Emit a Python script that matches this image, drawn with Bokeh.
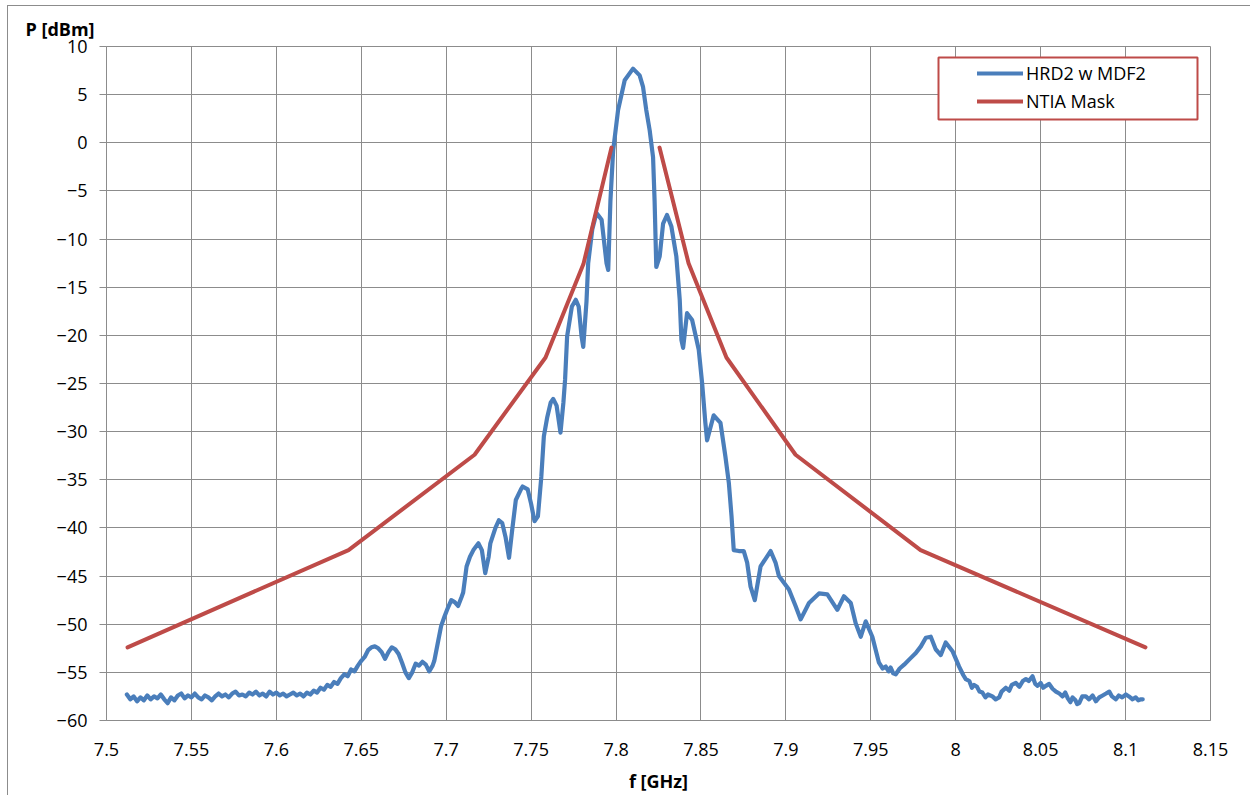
import numpy as np
from bokeh.plotting import figure
from bokeh.models import FixedTicker, Legend, LegendItem, BoxAnnotation, Title
from bokeh.embed import file_html
from bokeh.resources import INLINE

# ---------------- data ----------------
hrd2_freq = [
    7.512, 7.514, 7.516, 7.518, 7.520, 7.522, 7.524, 7.526, 7.528, 7.530,
    7.532, 7.534, 7.536, 7.538, 7.540, 7.542, 7.544, 7.546, 7.548, 7.550,
    7.552, 7.554, 7.556, 7.558, 7.560, 7.562, 7.564, 7.566, 7.568, 7.570,
    7.572, 7.574, 7.576, 7.578, 7.580, 7.582, 7.584, 7.586, 7.588, 7.590,
    7.592, 7.594, 7.596, 7.598, 7.600, 7.602, 7.604, 7.606, 7.608, 7.610,
    7.612, 7.614, 7.616, 7.618, 7.620, 7.622, 7.624, 7.626, 7.628, 7.630,
    7.632, 7.634, 7.636, 7.638, 7.640, 7.642, 7.644, 7.646, 7.648, 7.650,
    7.652, 7.654, 7.656, 7.658, 7.660, 7.662, 7.664, 7.666, 7.668, 7.670,
    7.672, 7.674, 7.676, 7.678, 7.680, 7.682, 7.684, 7.686, 7.688, 7.690,
    7.692, 7.693, 7.695, 7.697, 7.699, 7.701, 7.703, 7.705, 7.707, 7.709,
    7.710, 7.712, 7.714, 7.716, 7.719, 7.721, 7.723, 7.725, 7.726, 7.729,
    7.731, 7.733, 7.735, 7.737, 7.739, 7.741, 7.744, 7.745, 7.748, 7.750,
    7.752, 7.754, 7.756, 7.7575, 7.7595, 7.7615, 7.7630, 7.7650, 7.7673, 7.7690,
    7.7700, 7.7712, 7.7740, 7.7763, 7.7780, 7.7797, 7.7807, 7.7826, 7.7836, 7.7860,
    7.7885, 7.7915, 7.7944, 7.7954, 7.7967, 7.7983, 7.8012, 7.8051, 7.8100, 7.8139,
    7.8159, 7.8178, 7.8198, 7.8218, 7.8227, 7.8237, 7.8257, 7.8277, 7.8300, 7.8326,
    7.8355, 7.8375, 7.8385, 7.8395, 7.8418, 7.8448, 7.8487, 7.8507, 7.8526, 7.8536,
    7.8575, 7.8615, 7.8644, 7.8664, 7.8680, 7.8693, 7.8723, 7.8752, 7.8772, 7.8792,
    7.8817, 7.8851, 7.8910, 7.8939, 7.8959, 7.9018, 7.9057, 7.9087, 7.9136, 7.9195,
    7.9244, 7.9303, 7.9342, 7.9382, 7.9411, 7.9441, 7.9470, 7.9509, 7.9548, 7.9570,
    7.9588, 7.9605, 7.9617, 7.9632, 7.9647, 7.9670, 7.9696, 7.9730, 7.9765, 7.9795,
    7.9824, 7.9853, 7.9882, 7.9912, 7.9941, 7.9981, 8.0020, 8.0045, 8.0059, 8.0080,
    8.0095, 8.0108, 8.0125, 8.0140, 8.0157, 8.0175, 8.0190, 8.0216, 8.0235, 8.0256,
    8.0270, 8.0295, 8.0315, 8.0330, 8.0354, 8.0375, 8.0395, 8.0413, 8.0430, 8.0452,
    8.0468, 8.0482, 8.0500, 8.0515, 8.0531, 8.0550, 8.0570, 8.0590, 8.0610, 8.0629,
    8.0645, 8.0660, 8.0675, 8.0688, 8.0705, 8.0715, 8.0727, 8.0745, 8.0766, 8.0785,
    8.0806, 8.0825, 8.0845, 8.0865, 8.0885, 8.0904, 8.0920, 8.0943, 8.0960, 8.0980,
    8.1002, 8.1020, 8.1041, 8.1060, 8.1075, 8.1091, 8.1101,
]
hrd2_power = [
    -57.3, -57.8, -57.5, -58.0, -57.6, -57.9, -57.4, -57.8, -57.5, -57.7,
    -57.3, -57.8, -58.2, -57.6, -57.9, -57.4, -57.2, -57.7, -57.4, -57.6,
    -57.2, -57.6, -57.8, -57.4, -57.6, -57.9, -57.5, -57.2, -57.5, -57.3,
    -57.6, -57.2, -57.0, -57.4, -57.3, -57.5, -57.1, -57.3, -57.0, -57.4,
    -57.2, -57.5, -57.0, -57.3, -57.1, -57.4, -57.2, -57.5, -57.3, -57.1,
    -57.4, -57.2, -57.5, -57.1, -57.3, -56.9, -57.1, -56.6, -56.8, -56.3,
    -56.5, -56.0, -56.2, -55.6, -55.2, -55.4, -54.7, -54.9, -54.3, -53.8,
    -53.4, -52.7, -52.4, -52.3, -52.5, -52.9, -53.6, -52.9, -52.4, -52.6,
    -53.1, -54.0, -55.0, -55.6, -55.0, -54.1, -54.3, -53.9, -54.2, -54.9,
    -54.3, -53.8, -52.0, -50.2, -49.2, -48.3, -47.5, -47.7, -48.1, -47.2,
    -46.7, -44.0, -43.0, -42.3, -41.6, -42.3, -44.7, -43.0, -41.6, -40.0,
    -39.2, -39.5, -41.0, -43.1, -40.0, -37.1, -36.0, -35.7, -36.0, -37.5,
    -39.3, -38.8, -34.7, -30.5, -28.5, -27.0, -26.6, -27.3, -30.1, -27.0,
    -24.6, -20.1, -17.0, -16.3, -17.0, -20.1, -21.2, -16.5, -12.5, -9.0,
    -7.3, -8.0, -12.5, -13.2, -6.0, -0.8, 3.4, 6.5, 7.7, 7.0,
    5.8, 3.4, 1.3, -1.5, -6.0, -12.9, -11.8, -8.4, -7.5, -8.7,
    -11.8, -16.3, -20.5, -21.3, -17.7, -18.4, -21.5, -25.0, -29.1, -30.9,
    -28.3, -29.1, -32.6, -35.3, -38.8, -42.3, -42.4, -42.4, -43.6, -46.1,
    -47.5, -44.0, -42.4, -43.6, -45.0, -46.4, -48.1, -49.5, -47.8, -46.8,
    -46.9, -48.5, -47.1, -47.8, -49.9, -51.3, -49.7, -51.3, -54.0, -54.6,
    -54.4, -54.9, -54.5, -55.1, -55.2, -54.6, -54.2, -53.6, -53.0, -52.3,
    -51.4, -51.3, -52.6, -53.2, -51.9, -52.8, -54.4, -55.3, -55.7, -55.9,
    -56.6, -56.3, -56.5, -57.0, -57.1, -57.6, -57.3, -57.5, -57.8, -57.6,
    -57.0, -56.6, -56.9, -56.3, -56.1, -56.5, -55.9, -55.7, -55.9, -55.4,
    -56.2, -56.4, -56.1, -56.6, -56.4, -56.2, -56.7, -57.0, -57.2, -57.5,
    -57.1, -57.7, -58.1, -57.6, -57.9, -58.3, -58.2, -57.5, -57.5, -57.8,
    -57.4, -58.0, -57.6, -57.4, -57.2, -57.0, -57.5, -57.8, -57.4, -57.6,
    -57.3, -57.5, -57.8, -57.6, -57.9, -57.8, -57.8,
]

mask_left_freq = [7.5124, 7.6425, 7.7167, 7.7585, 7.7808, 7.7973]
mask_left_power = [-52.4, -42.3, -32.4, -22.3, -12.6, -0.5]
mask_right_freq = [7.8256, 7.8427, 7.8650, 7.9057, 7.9793, 8.1117]
mask_right_power = [-0.5, -12.5, -22.3, -32.4, -42.3, -52.4]

x_ticks = [7.5, 7.55, 7.6, 7.65, 7.7, 7.75, 7.8, 7.85, 7.9, 7.95, 8.0, 8.05, 8.1, 8.15]
x_tick_labels = ["7.5", "7.55", "7.6", "7.65", "7.7", "7.75", "7.8", "7.85", "7.9",
                 "7.95", "8", "8.05", "8.1", "8.15"]
y_ticks = [-60, -55, -50, -45, -40, -35, -30, -25, -20, -15, -10, -5, 0, 5, 10]

series_names = ["HRD2 w MDF2", "NTIA Mask"]
x_title = "f [GHz]"
y_title = "P [dBm]"

# ---------------- styling ----------------
BLUE = "#4a7ebb"
RED = "#be4b48"
GRID = "#8c8c8c"
FONT = "Open Sans"

mask_freq = np.array(mask_left_freq + [np.nan] + mask_right_freq)
mask_power = np.array(mask_left_power + [np.nan] + mask_right_power)

p = figure(width=1250, height=795, x_range=(7.5, 8.15), y_range=(-60, 10),
           output_backend="svg", toolbar_location=None,
           min_border_left=106, min_border_right=40, min_border_top=46,
           min_border_bottom=74)
p.background_fill_color = "white"
p.border_fill_alpha = 0
# chart-area frame (left and top edges visible, as in the reference)
p.styles = {
    "background": ("linear-gradient(#8c8c8c, #8c8c8c) 7px 5px / 1px 790px no-repeat, "
                   "linear-gradient(#8c8c8c, #8c8c8c) 7px 5px / 1244px 1px no-repeat, white"),
}
p.outline_line_color = GRID
p.outline_line_width = 1

p.xaxis.ticker = FixedTicker(ticks=x_ticks)
p.xaxis.major_label_overrides = {t: l for t, l in zip(x_ticks, x_tick_labels)}
p.yaxis.ticker = FixedTicker(ticks=y_ticks)

for ax in (p.xaxis, p.yaxis):
    ax.axis_line_color = GRID
    ax.major_tick_line_color = GRID
    ax.minor_tick_line_color = None
    ax.major_tick_in = 0
    ax.major_label_text_font = FONT
    ax.major_label_text_font_size = "18px"
    ax.major_label_text_color = "#000000"
p.xaxis.major_tick_out = 0
p.xaxis.major_label_standoff = 22
p.yaxis.major_tick_out = 7
p.yaxis.major_label_standoff = 12

p.xaxis.axis_label = x_title
p.xaxis.axis_label_standoff = 10
p.xaxis.axis_label_text_font = FONT
p.xaxis.axis_label_text_font_size = "18px"
p.xaxis.axis_label_text_font_style = "bold"
p.xaxis.axis_label_text_color = "#000000"

p.xgrid.grid_line_color = GRID
p.ygrid.grid_line_color = GRID
p.xgrid.grid_line_width = 1
p.ygrid.grid_line_width = 1

# y-axis title, horizontal, above the top-left corner of the plot area
p.add_layout(Title(text=y_title, align="left", offset=-81, standoff=12,
                   text_font=FONT, text_font_size="18px", text_font_style="bold",
                   text_color="#000000"), "above")

# legend box (white, red border)
box = BoxAnnotation(left=832, right=1091, top=663, bottom=601,
                    left_units="screen", right_units="screen",
                    top_units="screen", bottom_units="screen",
                    fill_color="white", fill_alpha=1.0,
                    line_color=RED, line_width=2, line_alpha=1.0)
p.add_layout(box)

r_blue = p.line(hrd2_freq, hrd2_power, line_color=BLUE, line_width=4.2,
                line_join="round", line_cap="round")
r_red = p.line(mask_freq, mask_power, line_color=RED, line_width=4,
               line_join="round", line_cap="round")

legend = Legend(items=[LegendItem(label=series_names[0], renderers=[r_blue]),
                       LegendItem(label=series_names[1], renderers=[r_red])],
                location=(871, 607))
legend.padding = 0
legend.margin = 0
legend.spacing = 4
legend.glyph_width = 46
legend.glyph_height = 20
legend.label_standoff = 3
legend.label_text_font = FONT
legend.label_text_font_size = "18px"
legend.label_text_color = "#000000"
legend.border_line_color = None
legend.background_fill_alpha = 0
p.add_layout(legend)

open("out.html", "w").write(file_html(p, INLINE))
